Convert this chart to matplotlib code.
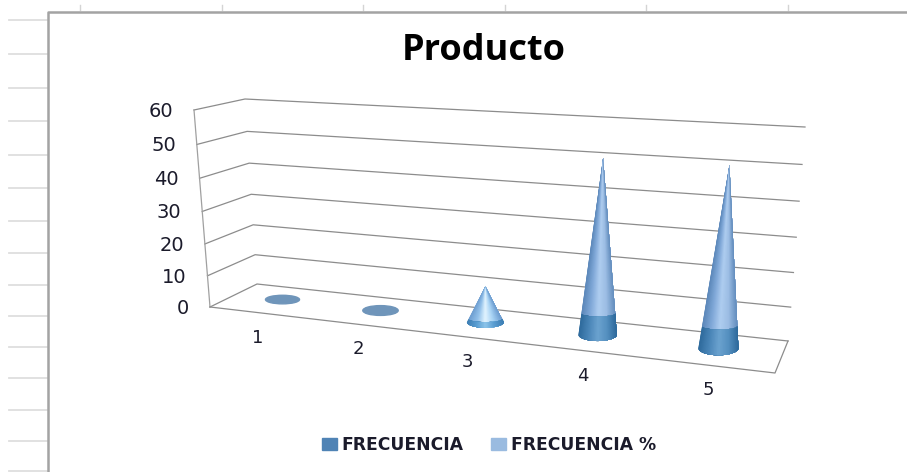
import numpy as np
import matplotlib
matplotlib.use("Agg")
import matplotlib.pyplot as plt
from matplotlib.collections import PolyCollection
from matplotlib.patches import Ellipse, Patch

# chart data
categories = ["1", "2", "3", "4", "5"]
frecuencia = [0, 0, 1, 6, 6]
frecuencia_pct = [0, 0, 10, 44, 44]
value_ticks = [0, 10, 20, 30, 40, 50, 60]
value_max = 60

# corners of the 3d box in pixels: (base x, base y, top x, top y)
LEFT_FRONT = np.array([210, 307, 194, 110], dtype=float)
LEFT_BACK = np.array([257, 284, 245, 99], dtype=float)
RIGHT_BACK = np.array([788, 341, 805, 127], dtype=float)
RIGHT_FRONT = np.array([775, 373, 792, 132], dtype=float)
PERSPECTIVE = 1.19  # categories spread out towards the right
MID_DEPTH = 0.55

GRID_COLOR = "#8c8c8c"
TEXT_COLOR = "#1b1b2b"


def stretch(u):
    # u is the position along the category axis, 0 to number of categories
    s = u / len(categories)
    return s / (s + PERSPECTIVE * (1 - s))


def project(u, depth, value):
    '''Turns (category position, depth 0-1, value) into pixel coordinates.'''
    t = stretch(u)
    front = LEFT_FRONT + (RIGHT_FRONT - LEFT_FRONT) * t
    back = LEFT_BACK + (RIGHT_BACK - LEFT_BACK) * t
    p = front + (back - front) * depth
    f = value / value_max
    f = f - 0.06 * f * (1 - f)  # upper levels sit a little closer together
    return p[0] + (p[2] - p[0]) * f, p[1] + (p[3] - p[1]) * f


def shade(stops, n):
    # colour for each facet going from the left side of the cone to the right
    pos = np.linspace(0, 1, len(stops))
    rgb = np.array([matplotlib.colors.to_rgb(c) for c in stops])
    x = (1 - np.cos(np.linspace(0, np.pi, n))) / 2
    return np.column_stack([np.interp(x, pos, rgb[:, i]) for i in range(3)])


def ringPoints(base, apex, a, b, f, theta):
    cx = base[0] + (apex[0] - base[0]) * f
    cy = base[1] + (apex[1] - base[1]) * f
    # arcs flatten quickly going up the cone
    return np.column_stack([cx + a * (1 - f) * np.cos(theta),
                            cy + b * (1 - f) ** 6 * np.sin(theta)])


def coneSegment(ax, base, apex, a, b, f0, f1, stops, n=40):
    '''Draws the visible front of a cone between height fractions f0 and f1.
    Each facet is painted from its left edge to the far right and the next one
    goes over it, so no seams show between them.'''
    theta = np.linspace(np.pi, 0, n + 1)
    polys = []
    for i in range(n):
        lower = ringPoints(base, apex, a, b, f0, theta[i:])
        upper = ringPoints(base, apex, a, b, f1, theta[i:])
        polys.append(np.vstack([lower, upper[::-1]]))
    ax.add_collection(PolyCollection(polys, facecolors=shade(stops, n), edgecolors="none", zorder=4))


fig = plt.figure(figsize=(9.07, 4.72), dpi=100)
ax = fig.add_axes([0, 0, 1, 1])
ax.set_xlim(0, 907)
ax.set_ylim(472, 0)
ax.axis("off")

# sheet rows and columns showing around the chart object
for y in [20, 54, 88, 121, 155, 188, 221, 253, 285, 316, 347, 378, 410, 441, 471]:
    ax.plot([9, 47], [y, y], color="#dedede", lw=1.3, zorder=1)
for x in [80, 222, 363, 505, 646, 788]:
    ax.plot([x, x], [5, 10], color="#d4d4d4", lw=1, zorder=1)
ax.plot([48, 48, 907], [472, 11.5, 11.5], color="#a3a3a3", lw=1.8, zorder=2)

# walls and floor
n_cat = len(categories)
for v in value_ticks:
    xs = [project(0, 0, v)[0], project(0, 1, v)[0], project(n_cat, 1, v)[0]]
    ys = [project(0, 0, v)[1], project(0, 1, v)[1], project(n_cat, 1, v)[1]]
    ax.plot(xs, ys, color=GRID_COLOR, lw=0.9, zorder=3)
ax.plot([project(0, 0, 0)[0], project(0, 0, value_max)[0]],
        [project(0, 0, 0)[1], project(0, 0, value_max)[1]], color="#a0a0a0", lw=0.9, zorder=3)
floor_x = [project(0, 0, 0)[0], project(n_cat, 0, 0)[0], project(n_cat, 1, 0)[0]]
floor_y = [project(0, 0, 0)[1], project(n_cat, 0, 0)[1], project(n_cat, 1, 0)[1]]
ax.plot(floor_x, floor_y, color=GRID_COLOR, lw=0.9, zorder=3)

# value axis labels
for v in value_ticks:
    x, y = project(0, 0, v)
    ax.text(x - 21, y + 1.5, str(v), ha="right", va="center", fontsize=14, color=TEXT_COLOR)

# cones, the two series are stacked in one cone
for i, name in enumerate(categories):
    u = i + 0.5
    total = frecuencia[i] + frecuencia_pct[i]
    t = stretch(u)
    a = 16.7 + 3.8 * t
    b = 4 + 3.4 * t
    base = project(u, MID_DEPTH, 0)
    apex = project(u, MID_DEPTH, total)
    if total == 0:
        ax.add_patch(Ellipse(base, 2 * a, 2 * b, color="#6f95ba", zorder=4))
    else:
        if total < 20:
            light = ["#6f9fd2", "#93c1ea", "#e2f4ff", "#a6d2f4", "#6f9fd2"]
            dark = ["#3f80b6", "#5a9ed2", "#8cc4ea", "#5a9ed2", "#3f80b6"]
        else:
            light = ["#5c88ba", "#80a8d8", "#aecdf0", "#9cbde4", "#6690c0"]
            dark = ["#2f6b9d", "#4a86b8", "#6ba2cf", "#5590c0", "#2f6b9d"]
        split = frecuencia[i] / total
        coneSegment(ax, base, apex, a, b, split, 1, light)
        coneSegment(ax, base, apex, a, b, 0, split, dark)

    # category label under the front edge
    x, y = project(u, 0, 0)
    ax.text(x - 1, y + 25, name, ha="center", va="center", fontsize=13, color=TEXT_COLOR)

ax.text(484, 51, "Producto", ha="center", va="center", fontsize=26, fontweight="bold",
        family="Open Sans", color="#000000")

handles = [Patch(color="#4f83b5", label="FRECUENCIA"), Patch(color="#9abbe0", label="FRECUENCIA %")]
ax.legend(handles=handles, loc="center", bbox_to_anchor=(489 / 907, 1 - 445 / 472), ncol=2,
          frameon=False, prop={"size": 12.3, "weight": "bold"}, labelcolor=TEXT_COLOR, handlelength=0.85,
          handleheight=0.7, handletextpad=0.3, columnspacing=1.6, borderpad=0)

fig.savefig("out.png", dpi=100)
